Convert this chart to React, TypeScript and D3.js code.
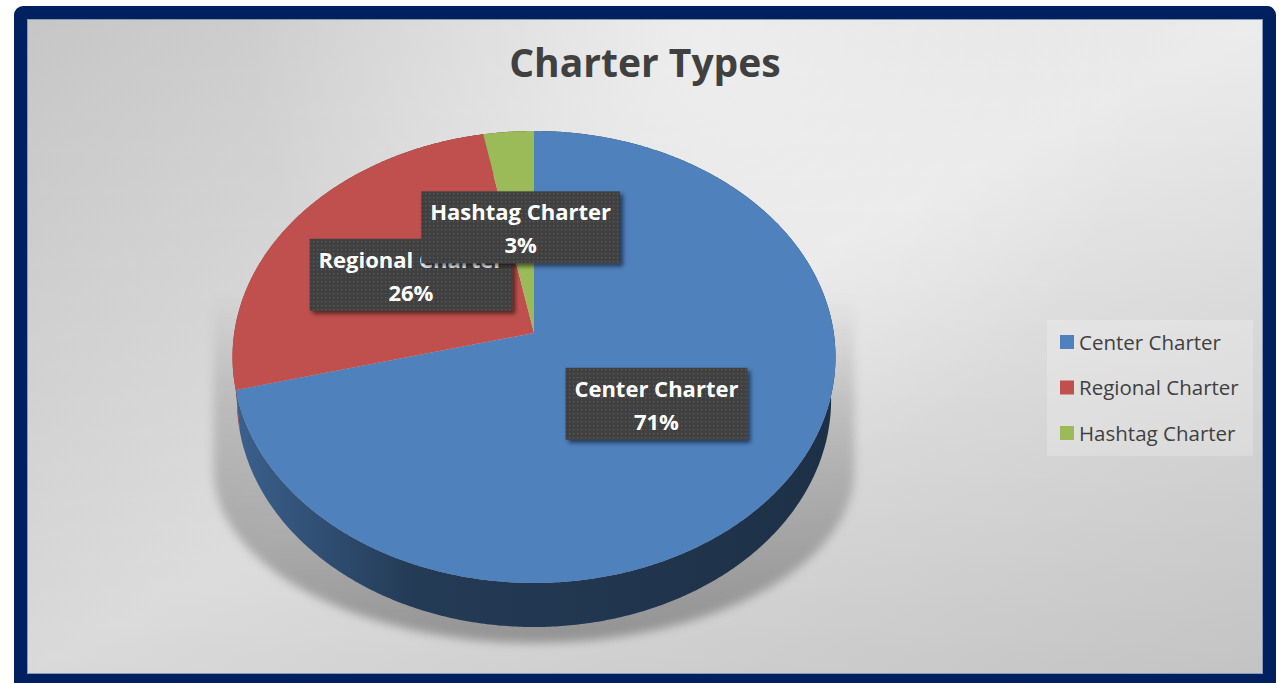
import React, { useMemo } from "react";
import * as d3 from "d3";

const categories = ["Center Charter", "Regional Charter", "Hashtag Charter"];
const values = [71, 26, 3];
const sliceColors = ["#4F81BD", "#C0504D", "#9BBB59"];
const chartTitle = "Charter Types";

const W = 1281;
const H = 683;

// perspective projection of the pie disc
const CX = 534;
const CY = 333;
const PA = 2104;
const PB = 2823;
const PD = 9.417;
const TAN = 0.839;
const DEPTH = 0.164;

function project(theta: number, r: number, level: number): [number, number] {
  const x = r * Math.sin(theta);
  const z = -r * Math.cos(theta);
  const hh = DEPTH * level;
  const w = PD + hh * TAN - z;
  return [CX + (PB * x) / w, CY + ((PA / TAN) * (hh + z * TAN)) / w];
}

function arcPoints(a0: number, a1: number, level: number): [number, number][] {
  const n = Math.max(2, Math.ceil(Math.abs(a1 - a0) / (Math.PI / 360)));
  const pts: [number, number][] = [];
  for (let i = 0; i <= n; i++) {
    const a = a0 + ((a1 - a0) * i) / n;
    pts.push(project(a, 1, level));
  }
  return pts;
}

function measure(text: string, font: string): number {
  if (typeof document === "undefined") return text.length * 11;
  const c = document.createElement("canvas").getContext("2d");
  if (!c) return text.length * 11;
  c.font = font;
  return c.measureText(text).width;
}

const FONT = "'Open Sans', 'Liberation Sans', sans-serif";

export default function App() {
  const arcs = useMemo(
    () => d3.pie<number>().sort(null).value((d) => d)(values),
    []
  );
  const line = d3.line<[number, number]>();
  const total = d3.sum(values);

  const topAll = arcPoints(0, Math.PI * 2, 0);
  const botAll = arcPoints(0, Math.PI * 2, 1);
  const minX = d3.min(topAll, (p) => p[0]) as number;
  const maxX = d3.max(topAll, (p) => p[0]) as number;
  const maxY = d3.max(botAll, (p) => p[1]) as number;

  const shL = minX - 19;
  const shR = maxX + 19;
  const shT = CY - 40;
  const shM = CY + 137;
  const shB = maxY + 16;
  const shadowPath = `M${shL},${shT} L${shR},${shT} L${shR},${shM} A${(shR - shL) / 2},${shB - shM} 0 0 1 ${shL},${shM} Z`;

  const labelFont = `bold 22px 'Open Sans'`;

  return (
    <svg
      width={W}
      height={H}
      style={{ position: "absolute", left: 0, top: 0, display: "block" }}
      fontFamily={FONT}
    >
      <defs>
        <linearGradient id="bg" x1="0" y1="0" x2="1" y2="1">
          <stop offset="0" stopColor="#c6c6c6" />
          <stop offset="0.5" stopColor="#ececec" />
          <stop offset="1" stopColor="#d4d4d4" />
        </linearGradient>
        <linearGradient id="bgDark" x1="0" y1="0" x2="0" y2="1">
          <stop offset="0" stopColor="#000" stopOpacity="0" />
          <stop offset="1" stopColor="#000" stopOpacity="0.08" />
        </linearGradient>
        <radialGradient id="bgLight" gradientUnits="userSpaceOnUse" cx="700" cy="40" r="450">
          <stop offset="0" stopColor="#fff" stopOpacity="0.5" />
          <stop offset="1" stopColor="#fff" stopOpacity="0" />
        </radialGradient>
        <linearGradient id="shadowGrad" gradientUnits="userSpaceOnUse" x1="0" y1={shT} x2="0" y2={shB}>
          <stop offset="0" stopColor="#000" stopOpacity="0" />
          <stop offset="0.3" stopColor="#000" stopOpacity="0.13" />
          <stop offset="1" stopColor="#000" stopOpacity="0.3" />
        </linearGradient>
        <filter id="blur" x="-10%" y="-10%" width="120%" height="120%">
          <feGaussianBlur stdDeviation="5" />
        </filter>
        {sliceColors.map((c, i) => (
          <linearGradient
            key={i}
            id={`side${i}`}
            gradientUnits="userSpaceOnUse"
            x1={minX}
            y1="0"
            x2={maxX}
            y2="0"
          >
            <stop offset="0" stopColor={d3.color(c)!.darker(0.8).formatHex()} />
            <stop offset="0.3" stopColor={d3.color(c)!.darker(2.2).formatHex()} />
            <stop offset="1" stopColor={d3.color(c)!.darker(2.8).formatHex()} />
          </linearGradient>
        ))}
        <pattern id="dots" width="4" height="4" patternUnits="userSpaceOnUse">
          <rect width="4" height="4" fill="#404040" />
          <rect x="1" y="1" width="1.3" height="1.3" fill="#5c5c5c" />
        </pattern>
        <filter id="boxShadow" x="-10%" y="-20%" width="130%" height="150%">
          <feDropShadow dx="3" dy="3" stdDeviation="2" floodColor="#000" floodOpacity="0.55" />
        </filter>
      </defs>

      {/* frame */}
      <rect x={14} y={6} width={1262} height={700} rx={9} fill="#002060" />
      <rect x={27} y={19} width={1236} height={655} fill="url(#bg)" />
      <rect x={27} y={19} width={1236} height={655} fill="url(#bgDark)" />
      <rect x={27} y={19} width={1236} height={655} fill="url(#bgLight)" />
      <rect x={27.5} y={19.5} width={1235} height={654} fill="none" stroke="#8a98b8" strokeWidth={1} />

      {/* title */}
      <text x={645} y={77} textAnchor="middle" fontSize={39} fontWeight="bold" fill="#404040">
        {chartTitle}
      </text>

      {/* shadow */}
      <path d={shadowPath} fill="url(#shadowGrad)" filter="url(#blur)" />

      {/* sides */}
      {arcs.map((a, i) => {
        const top = arcPoints(a.startAngle, a.endAngle, 0);
        const bot = arcPoints(a.startAngle, a.endAngle, 1).reverse();
        return (
          <path
            key={`s${i}`}
            d={line([...top, ...bot])! + "Z"}
            fill={`url(#side${i})`}
          />
        );
      })}

      {/* top faces */}
      {arcs.map((a, i) => {
        const top = arcPoints(a.startAngle, a.endAngle, 0);
        return (
          <path
            key={`t${i}`}
            d={line([[CX, CY], ...top])! + "Z"}
            fill={sliceColors[i]}
          />
        );
      })}

      {/* data labels */}
      {arcs.map((a, i) => {
        const mid = (a.startAngle + a.endAngle) / 2;
        const [lx, ly] = project(mid, 0.5, 0);
        const pct = `${Math.round((values[i] / total) * 100)}%`;
        const tw = Math.max(measure(categories[i], labelFont), measure(pct, labelFont));
        const bw = tw + 18;
        const bh = 72;
        return (
          <g key={`l${i}`}>
            <rect
              x={lx - bw / 2}
              y={ly - bh / 2}
              width={bw}
              height={bh}
              fill="url(#dots)"
              filter="url(#boxShadow)"
            />
            <text
              x={lx}
              y={ly - 7}
              textAnchor="middle"
              fontSize={22}
              fontWeight="bold"
              fill="#ffffff"
            >
              {categories[i]}
            </text>
            <text
              x={lx}
              y={ly + 26}
              textAnchor="middle"
              fontSize={22}
              fontWeight="bold"
              fill="#ffffff"
            >
              {pct}
            </text>
          </g>
        );
      })}

      {/* legend */}
      <g>
        <rect x={1047} y={320} width={206} height={136} fill="#ffffff" fillOpacity={0.22} />
        {categories.map((c, i) => (
          <g key={`g${i}`} transform={`translate(1060,${342 + i * 45.5})`}>
            <rect x={0} y={-7} width={14} height={14} fill={sliceColors[i]} />
            <text x={19} y={7.5} fontSize={20.5} fill="#404040">
              {c}
            </text>
          </g>
        ))}
      </g>
    </svg>
  );
}
